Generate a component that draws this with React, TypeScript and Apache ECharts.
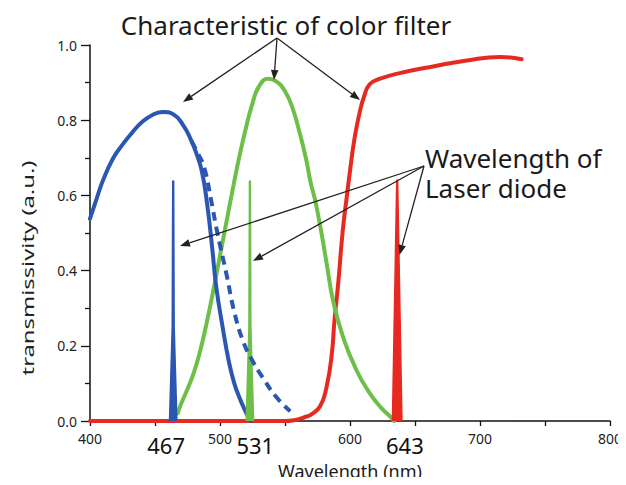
import React, { useEffect, useRef } from "react";
import * as echarts from "echarts";

// ---- data ----
const blueFilterX = [400, 405, 410, 418, 425, 432, 440, 448, 456, 464, 472, 478, 482, 486, 490, 494, 497, 502, 507, 511, 515, 519, 522, 524];
const blueFilterY = [0.538, 0.59, 0.64, 0.7, 0.735, 0.765, 0.795, 0.814, 0.822, 0.816, 0.785, 0.745, 0.71, 0.665, 0.58, 0.46, 0.36, 0.25, 0.155, 0.1, 0.062, 0.03, 0.01, 0];

const blueDashX = [478, 483, 488, 493, 498, 505, 511, 518, 525, 533, 543, 554];
const blueDashY = [0.745, 0.712, 0.672, 0.59, 0.5, 0.39, 0.29, 0.21, 0.16, 0.115, 0.065, 0.026];

const greenFilterX = [467.5, 470, 475, 480, 485, 490, 495, 500, 505, 510, 515, 520, 525, 530, 537, 543, 550, 556, 561, 566, 570, 573, 577, 582, 587, 595, 605, 615, 624, 632, 634];
const greenFilterY = [0.02, 0.045, 0.085, 0.13, 0.19, 0.265, 0.35, 0.44, 0.53, 0.62, 0.705, 0.78, 0.845, 0.89, 0.91, 0.904, 0.877, 0.83, 0.77, 0.7, 0.63, 0.59, 0.52, 0.42, 0.32, 0.22, 0.135, 0.075, 0.035, 0.008, 0];

const redFilterX = [400, 550, 558, 565, 570, 577, 582, 586, 588, 591, 594.5, 597.5, 600, 603.5, 607.5, 611, 615, 622, 639, 664, 690, 716, 732];
const redFilterY = [0, 0, 0.003, 0.01, 0.017, 0.039, 0.091, 0.178, 0.265, 0.369, 0.509, 0.596, 0.665, 0.752, 0.822, 0.865, 0.895, 0.909, 0.926, 0.943, 0.959, 0.968, 0.962];

const blueLaserX = [461.5, 463.6, 464, 464.4, 466.5];
const blueLaserY = [0, 0.25, 0.637, 0.25, 0];
const greenLaserX = [520.5, 522.6, 523, 523.4, 525.5];
const greenLaserY = [0, 0.25, 0.637, 0.25, 0];
const redLaserX = [633, 636.3, 639.6];
const redLaserY = [0, 0.639, 0];

const laserWavelengths = [467, 531, 643];

const xTickLabels = [400, 500, 600, 700, 800];
const yTickLabels = [0, 0.2, 0.4, 0.6, 0.8, 1.0];

const BLUE = "#2b57b3";
const GREEN = "#6dbf4a";
const RED = "#e8291f";

const pairs = (xs: number[], ys: number[]) => xs.map((x, i) => [x, ys[i]]);

function arrow(x1: number, y1: number, x2: number, y2: number) {
  const a = Math.atan2(y2 - y1, x2 - x1);
  const L = 10;
  const W = 3.8;
  const bx = x2 - L * Math.cos(a);
  const by = y2 - L * Math.sin(a);
  const px = -Math.sin(a) * W;
  const py = Math.cos(a) * W;
  return [
    { type: "line", z: 100, shape: { x1, y1, x2: bx, y2: by }, style: { stroke: "#222", lineWidth: 1.3 } },
    { type: "polygon", z: 100, shape: { points: [[x2, y2], [bx + px, by + py], [bx - px, by - py]] }, style: { fill: "#222" } },
  ];
}

export default function App() {
  const ref = useRef<HTMLDivElement>(null);
  useEffect(() => {
    if (!ref.current) return;
    const chart = echarts.init(ref.current, undefined, { renderer: "svg" });
    const font = "'Noto Sans', 'DejaVu Sans', sans-serif";
    const curve = (name: string, xs: number[], ys: number[], color: string, width: number, z: number, extra: any = {}) => ({
      name,
      type: "line",
      data: pairs(xs, ys),
      showSymbol: false,
      smooth: 0.5,
      lineStyle: { color, width, cap: "round", join: "round", ...extra },
      z,
    });
    const spike = (name: string, xs: number[], ys: number[], color: string) => ({
      name,
      type: "line",
      data: pairs(xs, ys),
      showSymbol: false,
      lineStyle: { color, width: 2.4, join: "round" },
      areaStyle: { color, opacity: 1 },
      z: 4,
    });
    const option: any = {
      animation: false,
      backgroundColor: "#ffffff",
      grid: { left: 90, top: 45, width: 520, height: 383, containLabel: false },
      xAxis: {
        type: "value",
        min: 400,
        max: 800,
        interval: 50,
        axisLine: { show: true, lineStyle: { color: "#111", width: 1.5 } },
        axisTick: { show: true, length: 5, lineStyle: { color: "#111", width: 1.3 } },
        splitLine: { show: false },
        axisLabel: {
          margin: 10,
          fontSize: 14,
          fontFamily: font,
          color: "#222",
          formatter: (v: number) => (xTickLabels.indexOf(v) >= 0 ? String(v) : ""),
        },
        name: "Wavelength (nm)",
        nameLocation: "middle",
        nameGap: 41,
        nameTextStyle: { fontSize: 18, fontFamily: font, color: "#1a1a1a" },
      },
      yAxis: {
        type: "value",
        min: 0,
        max: 1,
        interval: 0.2,
        axisLine: { show: true, lineStyle: { color: "#111", width: 1.5 } },
        axisTick: { show: true, length: 9, lineStyle: { color: "#111", width: 1.3 } },
        minorTick: { show: true, splitNumber: 2, length: 5, lineStyle: { color: "#111", width: 1.3 } },
        splitLine: { show: false },
        axisLabel: {
          margin: 13,
          fontSize: 14,
          fontFamily: font,
          color: "#222",
          formatter: (v: number) => {
            const hit = yTickLabels.find((t) => Math.abs(t - v) < 1e-9);
            return hit === undefined ? "" : hit.toFixed(1);
          },
        },
      },
      series: [
        curve("Red filter", redFilterX, redFilterY, RED, 4, 2),
        curve("Green filter", greenFilterX, greenFilterY, GREEN, 4, 2),
        curve("Blue filter", blueFilterX, blueFilterY, BLUE, 4, 3),
        curve("Blue filter (dashed)", blueDashX, blueDashY, BLUE, 4, 5, { type: [9, 6], cap: "butt" }),
        spike("Blue laser", blueLaserX, blueLaserY, BLUE),
        spike("Green laser", greenLaserX, greenLaserY, GREEN),
        spike("Red laser", redLaserX, redLaserY, RED),
        {
          name: "Laser labels",
          type: "scatter",
          clip: false,
          symbolSize: 0,
          silent: true,
          itemStyle: { opacity: 1 },
          data: laserWavelengths.map((w, i) => ({
            value: [w, 0],
            label: { offset: [[-11, -5, -1][i], 24] },
          })),
          label: {
            show: true,
            position: "inside",
            align: "center",
            verticalAlign: "middle",
            fontSize: 22,
            fontFamily: font,
            color: "#111",
            opacity: 1,
            formatter: (p: any) => String(p.value[0]),
          },
          z: 6,
        },
      ],
      graphic: [
        {
          type: "text",
          z: 100,
          x: 27,
          y: 268,
          rotation: Math.PI / 2,
          scaleX: 1.4,
          style: {
            text: "transmissivity (a.u.)",
            fontSize: 17,
            fontFamily: font,
            fill: "#222",
            align: "center",
            verticalAlign: "middle",
          },
        },
        {
          type: "text",
          z: 100,
          x: 286,
          y: 25,
          style: {
            text: "Characteristic of color filter",
            fontSize: 26,
            fontFamily: font,
            fill: "#1a1a1a",
            align: "center",
            verticalAlign: "middle",
          },
        },
        {
          type: "text",
          z: 100,
          x: 425,
          y: 173,
          style: {
            text: "Wavelength of\nLaser diode",
            fontSize: 26,
            lineHeight: 30,
            fontFamily: font,
            fill: "#1a1a1a",
            align: "left",
            verticalAlign: "middle",
          },
        },
        ...arrow(277, 38, 183, 102),
        ...arrow(277, 38, 274, 80),
        ...arrow(277, 38, 360, 100),
        ...arrow(424, 166, 180, 246),
        ...arrow(424, 166, 253, 261),
        ...arrow(424, 166, 399.5, 255),
      ],
    };
    chart.setOption(option);
    return () => chart.dispose();
  }, []);
  return <div ref={ref} style={{ width: 626, height: 485, margin: -8 }} />;
}
